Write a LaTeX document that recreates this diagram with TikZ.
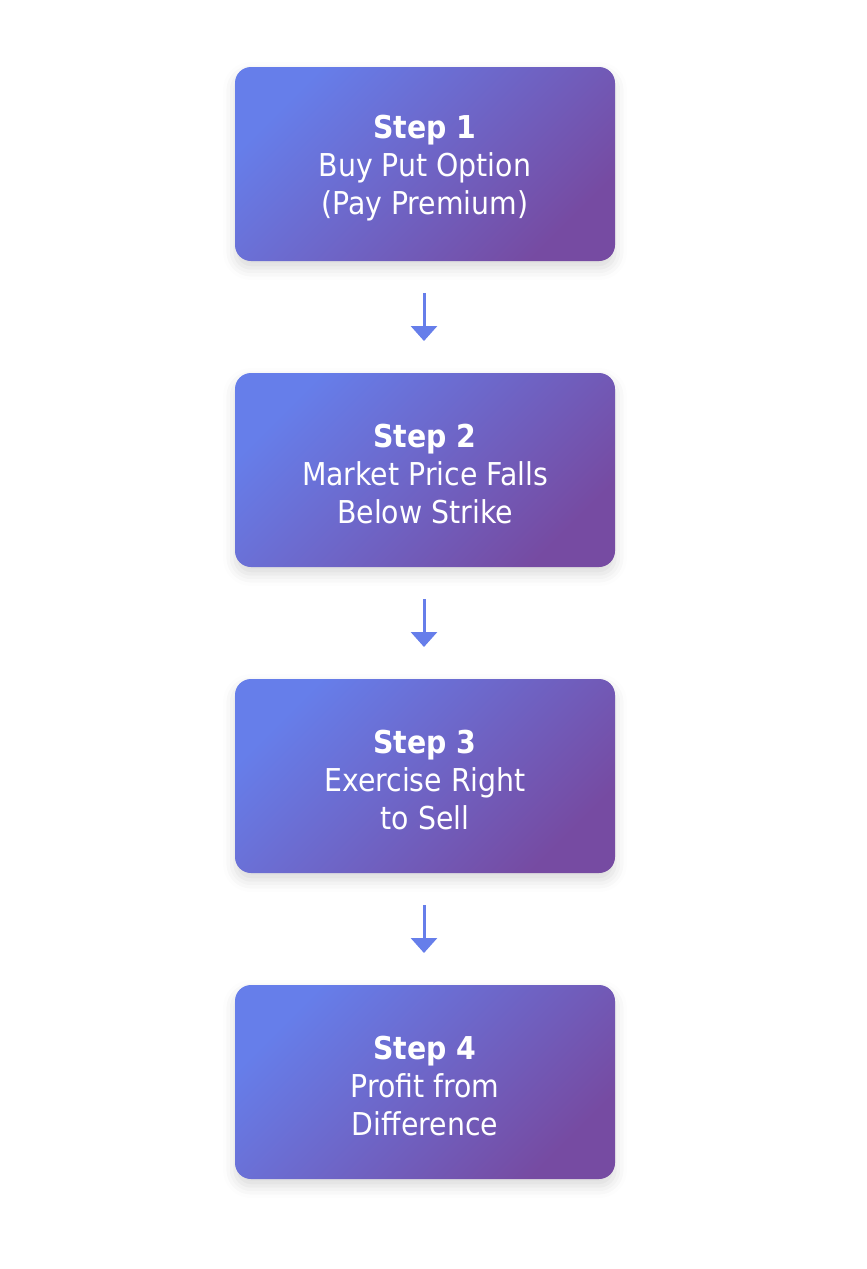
\documentclass[tikz,border=0pt]{standalone}
\usepackage{fontspec}
\setmainfont{DejaVu Sans Condensed}
\usetikzlibrary{shadows.blur,arrows.meta}
\definecolor{gA}{HTML}{667EEA}
\definecolor{gB}{HTML}{764BA2}
\tikzset{
  stepbox/.style={rounded corners=16pt, minimum width=380pt, minimum height=194pt,
    inner sep=0pt,
    left color=gA, right color=gB, shading angle=45,
    blur shadow={shadow xshift=0pt, shadow yshift=-7pt, shadow blur radius=12pt, shadow opacity=15}},
  steptext/.style={inner sep=0pt, text=white, align=center, yshift=-4pt,
    font=\fontsize{31.5}{38}\selectfont},
  flowarrow/.style={draw=gA, line width=3pt, -{Triangle[width=26pt,length=15pt]}}
}
\begin{document}
\begin{tikzpicture}[x=1pt,y=-1pt]
\useasboundingbox (0,0) rectangle (867,1269);
\node[stepbox] (s1) at (425,164) {};
\node[stepbox] (s2) at (425,470) {};
\node[stepbox] (s3) at (425,776) {};
\node[stepbox] (s4) at (425,1082) {};
\node[steptext] (t1) at (s1.center) {\textbf{Step 1}\\Buy Put Option\\(Pay Premium)};
\node[steptext] (t2) at (s2.center) {\textbf{Step 2}\\Market Price Falls\\Below Strike};
\node[steptext] (t3) at (s3.center) {\textbf{Step 3}\\Exercise Right\\to Sell};
\node[steptext] (t4) at (s4.center) {\textbf{Step 4}\\Profit from\\Difference};
\coordinate (a1s) at (424,293); \coordinate (a1e) at (424,341);
\coordinate (a2s) at (424,599); \coordinate (a2e) at (424,647);
\coordinate (a3s) at (424,905); \coordinate (a3e) at (424,953);
\draw[flowarrow] (a1s) -- (a1e);
\draw[flowarrow] (a2s) -- (a2e);
\draw[flowarrow] (a3s) -- (a3e);
\end{tikzpicture}
\end{document}
